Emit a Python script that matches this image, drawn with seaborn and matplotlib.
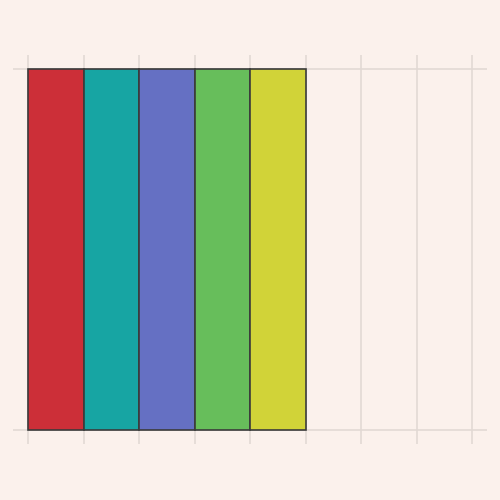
import matplotlib
matplotlib.use("Agg")
import matplotlib.pyplot as plt
import seaborn as sns
import pandas as pd

# ==========================================================
# DATA
# ==========================================================

categories = ["A", "B", "C", "D", "E"]

values = [1, 1, 1, 1, 1]

colors = ["#cc2f38", "#17a5a3", "#6570c3", "#67be5b", "#d1d338"]

df = pd.DataFrame({"cat": categories, "val": values})

# ==========================================================
# PLOT
# ==========================================================

bg = "#fbf1ec"

sns.set_style("white")

fig = plt.figure(figsize=(5, 5), dpi=100, facecolor=bg)

ax = fig.add_axes([13 / 500, 56 / 500, 474 / 500, 389 / 500])
ax.set_facecolor(bg)

sns.barplot(
    data=df,
    x="cat",
    y="val",
    hue="cat",
    palette=colors,
    saturation=1,
    width=1.0,
    edgecolor="#3b3b3b",
    linewidth=1.2,
    legend=False,
    ax=ax,
    zorder=3
)

ax.set_xlim(-0.5 - 15 / 55.5, -0.5 + 459 / 55.5)
ax.set_ylim(-14 / 361, 1 + 14 / 361)

ax.set_xticks([i - 0.5 for i in range(9)])
ax.set_yticks([0, 1])
ax.set_xticklabels([])
ax.set_yticklabels([])
ax.tick_params(length=0)

ax.grid(True, color="#e2d9d4", linewidth=1.2, zorder=0)
ax.set_axisbelow(True)

for s in ax.spines.values():
    s.set_visible(False)

ax.set_xlabel("")
ax.set_ylabel("")

plt.savefig("out.png", facecolor=bg)
plt.close()
